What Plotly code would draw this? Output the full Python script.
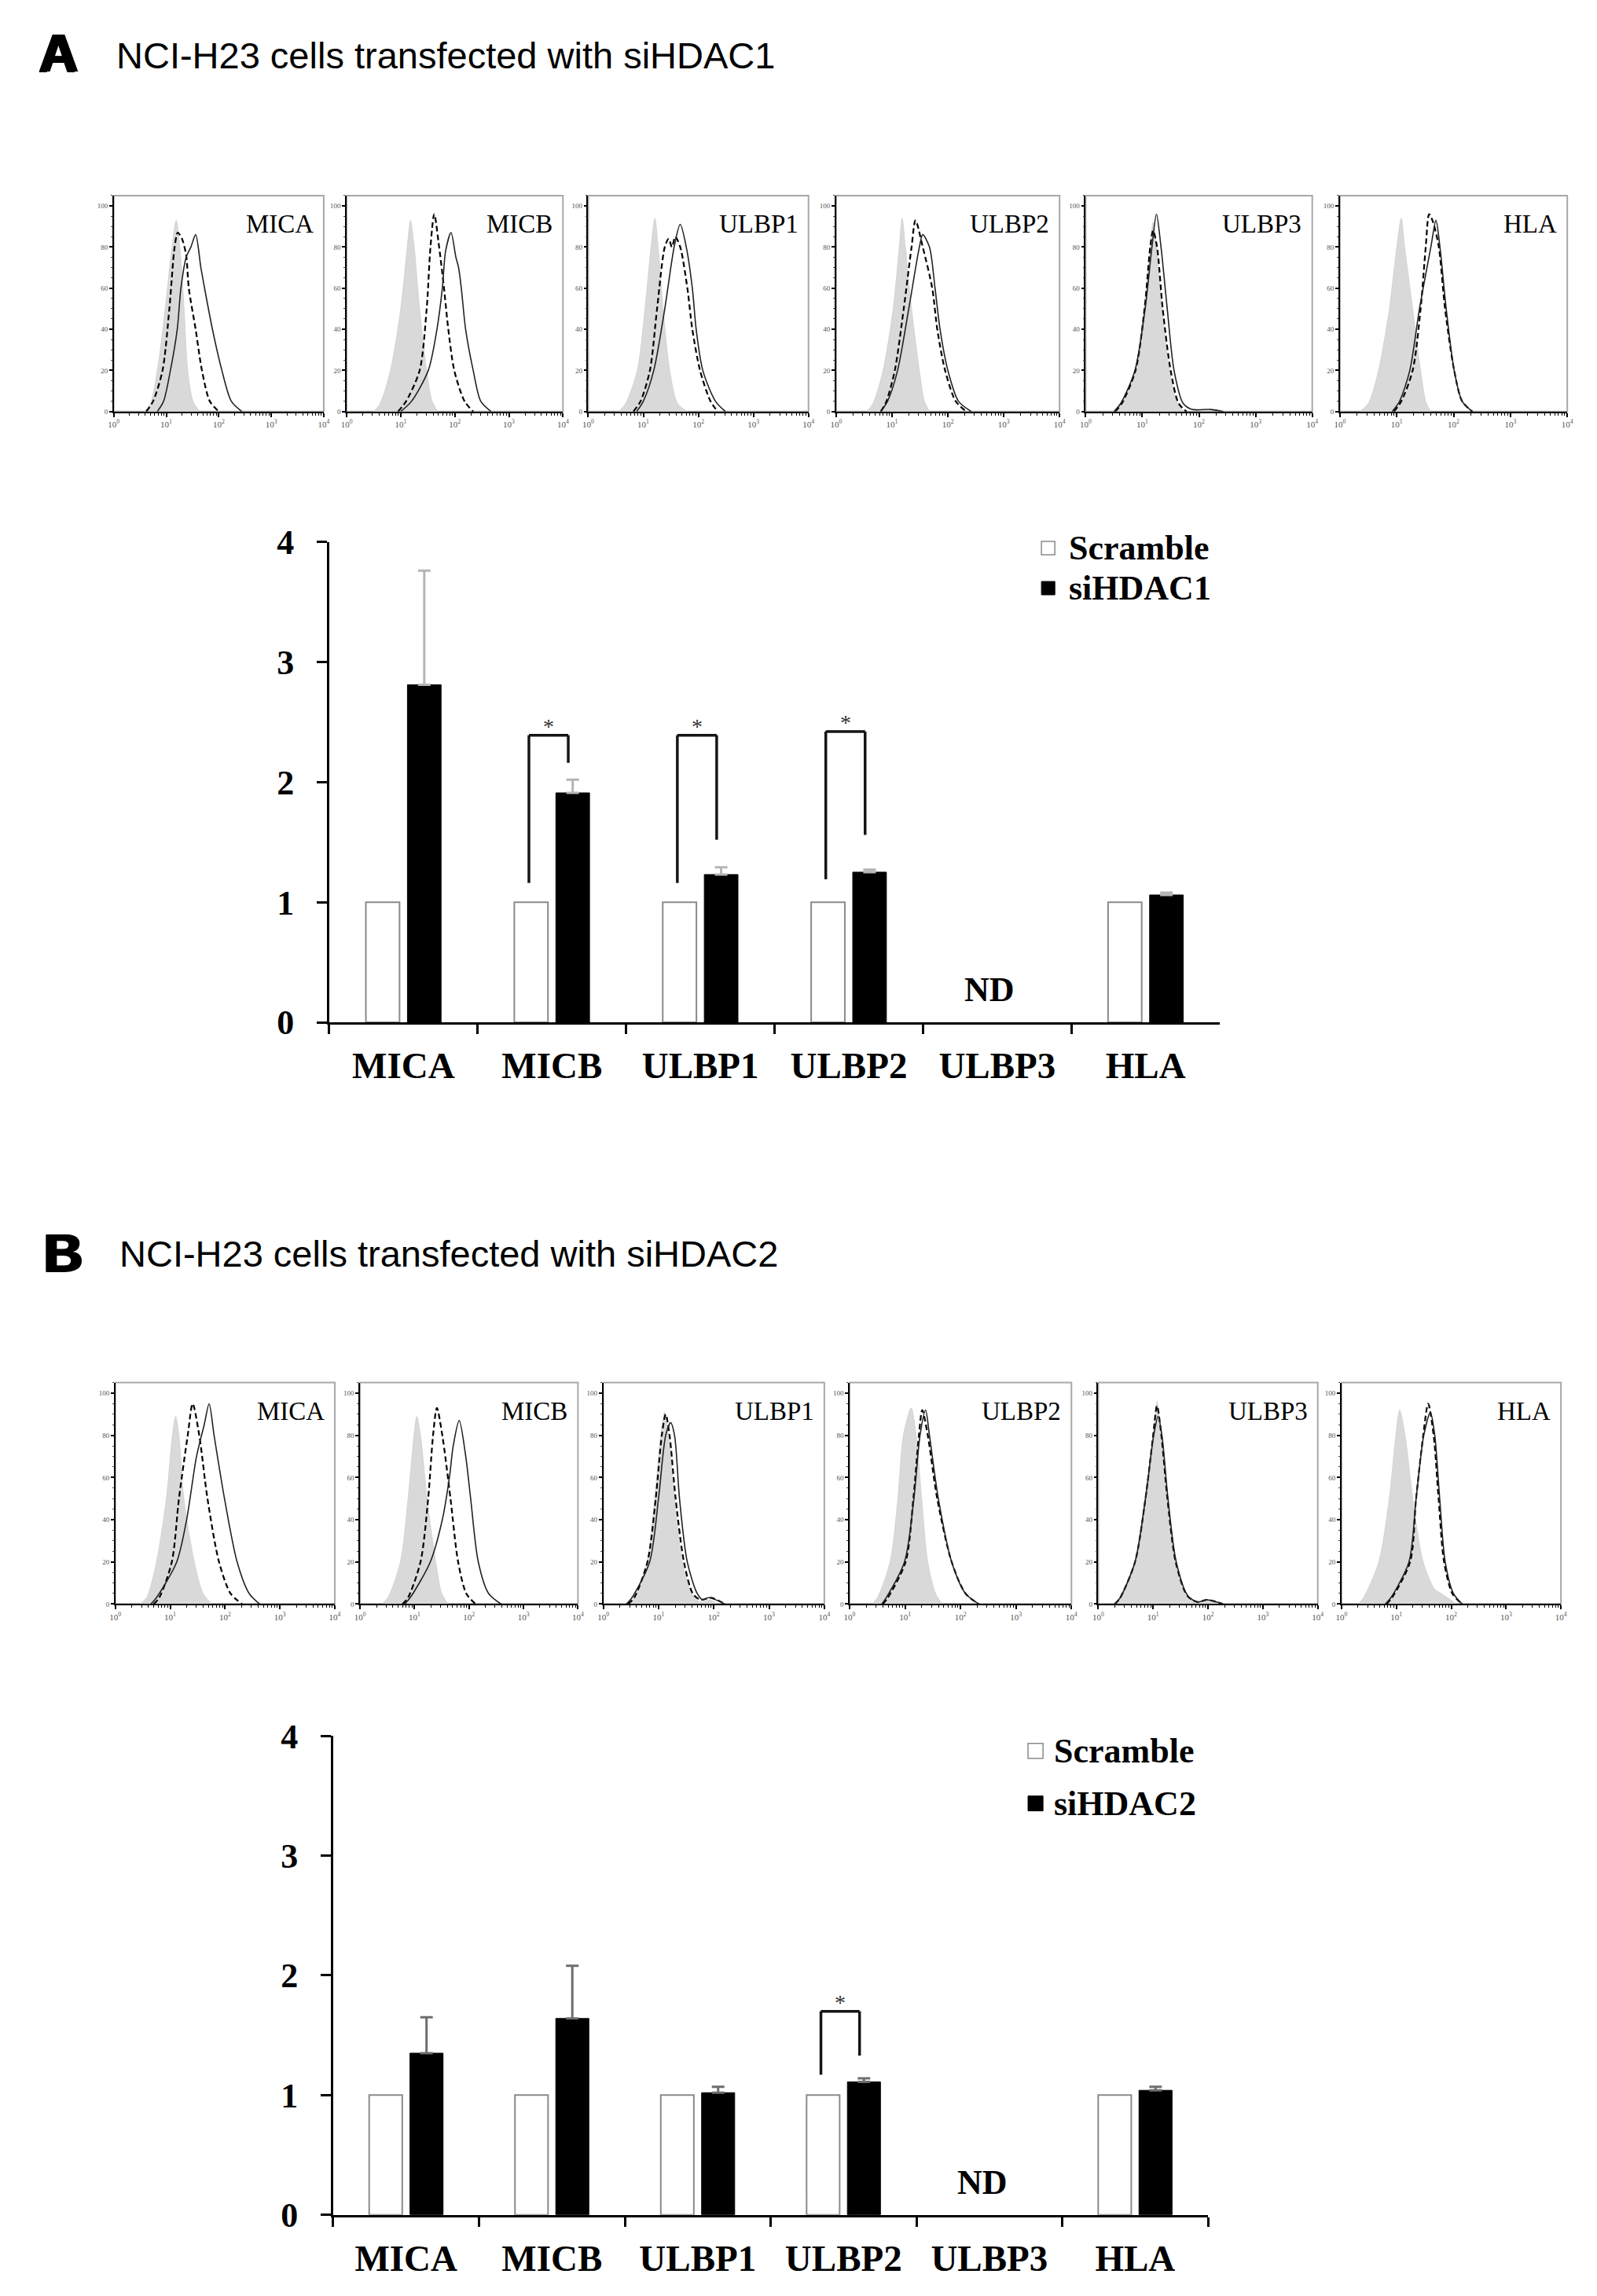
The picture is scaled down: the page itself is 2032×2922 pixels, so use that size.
import plotly.graph_objects as go

# ---- bar chart data (fold change of MFI vs scramble) ----
categories = ["MICA", "MICB", "ULBP1", "ULBP2", "ULBP3", "HLA"]

scramble_a = [1, 1, 1, 1, None, 1]
sihdac1 = [2.81, 1.91, 1.23, 1.25, None, 1.06]
sihdac1_err = [0.95, 0.11, 0.06, 0.02, None, 0.02]

scramble_b = [1, 1, 1, 1, None, 1]
sihdac2 = [1.35, 1.64, 1.02, 1.11, None, 1.04]
sihdac2_err = [0.30, 0.44, 0.05, 0.03, None, 0.03]

# significance brackets: gene, left leg bottom, bracket top, right leg bottom
sig_a = [("MICB", 1.16, 2.39, 2.16), ("ULBP1", 1.16, 2.39, 1.52), ("ULBP2", 1.19, 2.42, 1.56)]
sig_b = [("ULBP2", 1.17, 1.70, 1.33)]

# ---- flow histograms: (log10 fluorescence, % of max) ----
# A (siHDAC1)
a_mica_iso = [(0.58, 0), (0.70, 4), (0.83, 20), (0.98, 50), (1.11, 80), (1.19, 93), (1.26, 80), (1.34, 50), (1.41, 20), (1.51, 5), (1.64, 0)]
a_mica_scr = [(0.62, 0), (0.75, 5), (0.93, 20), (1.06, 50), (1.16, 80), (1.22, 87), (1.30, 84), (1.38, 76), (1.43, 60), (1.56, 40), (1.68, 20), (1.83, 5), (2.0, 0)]
a_mica_si = [(0.83, 0), (0.95, 5), (1.08, 20), (1.21, 40), (1.28, 60), (1.38, 75), (1.47, 80), (1.56, 86), (1.66, 70), (1.73, 60), (1.88, 40), (2.06, 20), (2.24, 5), (2.44, 0)]

a_micb_iso = [(0.50, 0), (0.62, 4), (0.81, 20), (1.00, 50), (1.12, 80), (1.18, 93), (1.25, 80), (1.35, 50), (1.48, 20), (1.58, 5), (1.69, 0)]
a_micb_scr = [(0.95, 0), (1.10, 5), (1.35, 20), (1.48, 50), (1.55, 80), (1.62, 96), (1.71, 80), (1.80, 60), (1.88, 40), (1.99, 20), (2.18, 5), (2.34, 0)]
a_micb_si = [(1.00, 0), (1.20, 5), (1.51, 20), (1.67, 40), (1.77, 60), (1.83, 78), (1.93, 87), (2.02, 75), (2.07, 70), (2.12, 60), (2.20, 40), (2.34, 20), (2.48, 5), (2.67, 0)]

a_ulbp1_iso = [(0.55, 0), (0.68, 4), (0.89, 20), (1.03, 50), (1.14, 80), (1.21, 94), (1.27, 80), (1.36, 50), (1.48, 20), (1.62, 4), (1.80, 0)]
a_ulbp1_scr = [(0.82, 0), (0.95, 5), (1.12, 20), (1.25, 50), (1.39, 80), (1.46, 84), (1.52, 80), (1.58, 85), (1.67, 80), (1.80, 60), (1.89, 40), (2.03, 20), (2.22, 5), (2.35, 0)]
a_ulbp1_si = [(0.88, 0), (1.00, 5), (1.19, 20), (1.39, 50), (1.56, 80), (1.67, 91), (1.78, 80), (1.89, 60), (1.96, 40), (2.08, 20), (2.31, 5), (2.49, 0)]

a_ulbp2_iso = [(0.55, 0), (0.66, 4), (0.84, 20), (1.02, 50), (1.13, 80), (1.18, 94), (1.24, 80), (1.35, 50), (1.49, 20), (1.58, 5), (1.67, 0)]
a_ulbp2_scr = [(0.80, 0), (0.90, 5), (1.05, 20), (1.21, 50), (1.35, 80), (1.42, 93), (1.55, 80), (1.72, 60), (1.81, 40), (1.95, 20), (2.14, 5), (2.33, 0)]
a_ulbp2_si = [(0.80, 0), (0.92, 5), (1.10, 20), (1.30, 50), (1.49, 80), (1.55, 86), (1.67, 80), (1.77, 60), (1.86, 40), (2.00, 20), (2.19, 5), (2.42, 0)]

a_ulbp3_iso = [(0.50, 0), (0.62, 4), (0.87, 20), (1.03, 50), (1.14, 80), (1.19, 92), (1.25, 80), (1.35, 50), (1.48, 20), (1.62, 4), (1.74, 0)]
a_ulbp3_scr = [(0.52, 0), (0.64, 4), (0.88, 20), (1.04, 50), (1.14, 80), (1.19, 88), (1.26, 80), (1.36, 50), (1.50, 20), (1.64, 4), (1.78, 0)]
a_ulbp3_si = [(0.50, 0), (0.62, 4), (0.87, 20), (1.05, 50), (1.17, 80), (1.25, 96), (1.33, 80), (1.44, 50), (1.56, 20), (1.72, 4), (1.88, 1), (2.20, 1), (2.43, 0)]

a_hla_iso = [(0.35, 0), (0.50, 4), (0.68, 20), (0.87, 50), (1.00, 80), (1.08, 94), (1.14, 80), (1.28, 50), (1.42, 20), (1.52, 4), (1.60, 0)]
a_hla_scr = [(0.95, 0), (1.08, 5), (1.28, 20), (1.42, 50), (1.51, 80), (1.57, 96), (1.64, 92), (1.74, 80), (1.85, 50), (2.01, 20), (2.15, 5), (2.33, 0)]
a_hla_si = [(0.92, 0), (1.05, 5), (1.23, 20), (1.40, 50), (1.60, 80), (1.69, 93), (1.76, 80), (1.87, 50), (2.01, 20), (2.15, 5), (2.33, 0)]

# B (siHDAC2)
b_mica_iso = [(0.45, 0), (0.57, 3), (0.75, 20), (0.93, 50), (1.04, 80), (1.10, 89), (1.16, 80), (1.25, 50), (1.44, 20), (1.60, 5), (1.76, 0)]
b_mica_scr = [(0.70, 0), (0.80, 3), (1.03, 20), (1.16, 50), (1.32, 80), (1.41, 95), (1.53, 80), (1.68, 50), (1.89, 20), (2.10, 5), (2.31, 0)]
b_mica_si = [(0.65, 0), (0.75, 3), (1.12, 20), (1.30, 40), (1.48, 70), (1.62, 85), (1.71, 95), (1.80, 80), (1.99, 50), (2.22, 20), (2.44, 5), (2.63, 0)]

b_micb_iso = [(0.40, 0), (0.51, 3), (0.74, 20), (0.88, 50), (0.99, 80), (1.04, 89), (1.11, 80), (1.23, 50), (1.39, 20), (1.50, 5), (1.62, 0)]
b_micb_scr = [(0.78, 0), (0.88, 3), (1.11, 20), (1.25, 50), (1.34, 80), (1.41, 93), (1.51, 80), (1.66, 50), (1.80, 20), (1.95, 5), (2.12, 0)]
b_micb_si = [(0.82, 0), (0.92, 3), (1.29, 20), (1.51, 40), (1.64, 60), (1.71, 75), (1.82, 87), (1.94, 70), (2.03, 50), (2.17, 20), (2.36, 5), (2.59, 0)]

b_ulbp1_iso = [(0.45, 0), (0.56, 3), (0.79, 20), (0.93, 50), (1.04, 80), (1.11, 91), (1.18, 80), (1.29, 50), (1.43, 20), (1.60, 5), (1.75, 1), (1.93, 2), (2.05, 0)]
b_ulbp1_scr = [(0.45, 0), (0.56, 3), (0.80, 20), (0.95, 50), (1.06, 80), (1.13, 90), (1.20, 80), (1.31, 50), (1.46, 20), (1.62, 5), (1.76, 2), (1.95, 3), (2.20, 0)]
b_ulbp1_si = [(0.42, 0), (0.52, 3), (0.84, 20), (1.00, 50), (1.13, 80), (1.22, 86), (1.29, 80), (1.38, 50), (1.52, 20), (1.70, 5), (1.80, 2), (1.91, 3), (2.20, 0)]

b_ulbp2_iso = [(0.40, 0), (0.50, 3), (0.73, 20), (0.87, 50), (0.97, 80), (1.11, 93), (1.20, 80), (1.30, 50), (1.41, 20), (1.55, 5), (1.67, 0)]
b_ulbp2_scr = [(0.60, 0), (0.69, 3), (1.01, 20), (1.15, 50), (1.25, 80), (1.31, 92), (1.41, 80), (1.58, 50), (1.84, 20), (2.09, 5), (2.33, 0)]
b_ulbp2_si = [(0.58, 0), (0.66, 3), (0.99, 20), (1.16, 50), (1.27, 80), (1.37, 92), (1.44, 80), (1.60, 50), (1.84, 20), (2.09, 5), (2.33, 0)]

b_ulbp3_iso = [(0.30, 0), (0.38, 3), (0.66, 20), (0.85, 50), (1.00, 80), (1.07, 96), (1.14, 80), (1.25, 50), (1.40, 20), (1.60, 4), (1.80, 1), (1.99, 2), (2.27, 0)]
b_ulbp3_scr = [(0.30, 0), (0.40, 3), (0.67, 20), (0.86, 50), (1.00, 80), (1.07, 94), (1.15, 80), (1.26, 50), (1.41, 20), (1.62, 4), (1.80, 1), (1.99, 2), (2.27, 0)]
b_ulbp3_si = [(0.30, 0), (0.40, 3), (0.67, 20), (0.86, 50), (1.01, 80), (1.09, 89), (1.16, 80), (1.27, 50), (1.42, 20), (1.63, 4), (1.80, 1), (1.99, 2), (2.27, 0)]

b_hla_iso = [(0.30, 0), (0.40, 3), (0.68, 20), (0.87, 50), (0.99, 80), (1.06, 92), (1.16, 80), (1.30, 50), (1.49, 20), (1.70, 7), (1.82, 5), (2.10, 0)]
b_hla_scr = [(0.82, 0), (0.92, 3), (1.25, 20), (1.36, 50), (1.49, 80), (1.58, 95), (1.68, 80), (1.77, 50), (1.87, 20), (2.02, 5), (2.20, 0)]
b_hla_si = [(0.80, 0), (0.90, 3), (1.23, 20), (1.36, 50), (1.50, 80), (1.62, 91), (1.70, 80), (1.79, 50), (1.89, 20), (2.04, 5), (2.20, 0)]

hist_a = [(a_mica_iso, a_mica_scr, a_mica_si), (a_micb_iso, a_micb_scr, a_micb_si),
          (a_ulbp1_iso, a_ulbp1_scr, a_ulbp1_si), (a_ulbp2_iso, a_ulbp2_scr, a_ulbp2_si),
          (a_ulbp3_iso, a_ulbp3_scr, a_ulbp3_si), (a_hla_iso, a_hla_scr, a_hla_si)]
hist_b = [(b_mica_iso, b_mica_scr, b_mica_si), (b_micb_iso, b_micb_scr, b_micb_si),
          (b_ulbp1_iso, b_ulbp1_scr, b_ulbp1_si), (b_ulbp2_iso, b_ulbp2_scr, b_ulbp2_si),
          (b_ulbp3_iso, b_ulbp3_scr, b_ulbp3_si), (b_hla_iso, b_hla_scr, b_hla_si)]

# ---- page geometry: positions are given in pixels of the final 2032x2922 picture ----
W_FIG, H_FIG = 2016, 2906
OFF = 8
# the captured page comes out slightly shrunk/shifted; undo that here
X_SHIFT, X_SCALE = 11, 0.988
Y_SHIFT, Y_SCALE = 23, 0.984


def px_x(px):
    return ((px - X_SHIFT) / X_SCALE - OFF) / W_FIG


def px_y(py):
    return 1 - ((py - Y_SHIFT) / Y_SCALE - OFF) / H_FIG


SERIF = "Liberation Serif"
SANS = "Liberation Sans"

fig = go.Figure()
layout = dict(
    width=W_FIG, height=H_FIG, margin=dict(l=0, r=0, t=0, b=0),
    paper_bgcolor="white", plot_bgcolor="white", showlegend=False,
    barmode="group", bargap=0.44, bargroupgap=0.19,
)
shapes = []
annotations = []

# ---- bar charts ----
bar_panels = [
    ("x", "y", scramble_a, sihdac1, sihdac1_err, "siHDAC1", "#b5b5b5", sig_a,
     (421, 1549), (689, 1301), ((1323, 697), (1323, 748), 17, 1356)),
    ("x2", "y2", scramble_b, sihdac2, sihdac2_err, "siHDAC2", "#6e6e6e", sig_b,
     (426, 1534), (2210, 2820), ((1306, 2229), (1306, 2296), 19, 1337)),
]

for xa, ya, scr, si, err, si_name, err_col, sig, (xl, xr), (yt, yb), leg in bar_panels:
    fig.add_trace(go.Bar(x=categories, y=scr, name="Scramble", xaxis=xa, yaxis=ya,
                         marker=dict(color="white", line=dict(color="#8a8a8a", width=2))))
    fig.add_trace(go.Bar(x=categories, y=si, name=si_name, xaxis=xa, yaxis=ya,
                         marker=dict(color="black", line=dict(color="black", width=1)),
                         error_y=dict(type="data", symmetric=False, array=err,
                                      arrayminus=[0] * len(err), color=err_col,
                                      thickness=3, width=8)))
    n = xa[1:]
    layout[f"xaxis{n}"] = dict(
        domain=[px_x(xl), px_x(xr)], anchor=ya, type="category",
        categoryorder="array", categoryarray=categories, range=[-0.5, 5.5],
        showline=True, linecolor="black", linewidth=3, ticks="outside",
        tickson="boundaries", ticklen=12, tickwidth=3, tickcolor="black",
        tickfont=dict(family=SERIF, size=47, color="black", weight="bold"),
        ticklabelstandoff=12, showgrid=False, zeroline=False)
    layout[f"yaxis{n}"] = dict(
        domain=[px_y(yb), px_y(yt)], anchor=xa, range=[0, 4],
        tickvals=[0, 1, 2, 3, 4], showline=True, linecolor="black", linewidth=3,
        ticks="outside", ticklen=13, tickwidth=3, tickcolor="black",
        tickfont=dict(family=SERIF, size=44, color="black", weight="bold"),
        ticklabelstandoff=20, showgrid=False, zeroline=False)

    # significance brackets
    for gene, left_y, top_y, right_y in sig:
        i = categories.index(gene)
        bl, br = i - 0.155, i + 0.11
        for x0, y0, x1, y1 in [(bl, left_y, bl, top_y), (bl, top_y, br, top_y), (br, top_y, br, right_y)]:
            shapes.append(dict(type="line", xref=xa, yref=ya, x0=x0, y0=y0, x1=x1, y1=y1,
                               line=dict(color="#151515", width=3.5)))
        annotations.append(dict(text="*", xref=xa, yref=ya, x=(bl + br) / 2, y=top_y,
                                xanchor="center", yanchor="bottom", yshift=-6, showarrow=False,
                                font=dict(family=SERIF, size=28, color="#333")))

    annotations.append(dict(text="ND", xref=xa, yref=ya, x=categories.index("ULBP3") - 0.05, y=0.27,
                            showarrow=False, xanchor="center", yanchor="middle",
                            font=dict(family=SERIF, size=44, color="black", weight="bold")))

    # legend
    (sx, sy1), (_, sy2), sz, tx = leg
    shapes.append(dict(type="rect", xref="paper", yref="paper",
                       x0=px_x(sx), x1=px_x(sx + sz), y0=px_y(sy1 + sz / 2), y1=px_y(sy1 - sz / 2),
                       fillcolor="white", line=dict(color="#8a8a8a", width=1.5)))
    shapes.append(dict(type="rect", xref="paper", yref="paper",
                       x0=px_x(sx), x1=px_x(sx + sz), y0=px_y(sy2 + sz / 2), y1=px_y(sy2 - sz / 2),
                       fillcolor="black", line=dict(color="black", width=1)))
    for label, ty in [("Scramble", sy1), (si_name, sy2)]:
        annotations.append(dict(text=label, xref="paper", yref="paper", x=px_x(tx), y=px_y(ty),
                                xanchor="left", yanchor="middle", showarrow=False,
                                font=dict(family=SERIF, size=44, color="black", weight="bold")))

# ---- flow cytometry histograms ----
hist_rows = [
    (hist_a, 3, [(148, 414), (443, 717), (749, 1028), (1063, 1346), (1379, 1666), (1701, 1989)], (248, 523)),
    (hist_b, 9, [(150, 428), (460, 736), (768, 1048), (1080, 1361), (1395, 1673), (1703, 1981)], (1760, 2042)),
]
minor_x = [m * 10 ** d for d in range(4) for m in range(2, 10)]

for curves, first, xdoms, (yt, yb) in hist_rows:
    for k, (iso, scr, si) in enumerate(curves):
        n = first + k
        xa, ya = f"x{n}", f"y{n}"
        fig.add_trace(go.Scatter(x=[10 ** p[0] for p in iso], y=[p[1] for p in iso], xaxis=xa, yaxis=ya,
                                 mode="lines", line=dict(color="#cfcfcf", width=0.8, shape="spline", smoothing=0.8),
                                 fill="tozeroy", fillcolor="#d9d9d9", name="Isotype"))
        fig.add_trace(go.Scatter(x=[10 ** p[0] for p in scr], y=[p[1] for p in scr], xaxis=xa, yaxis=ya,
                                 mode="lines", line=dict(color="black", width=2.2, dash="7px,4px",
                                                         shape="spline", smoothing=0.8), name="Scramble"))
        fig.add_trace(go.Scatter(x=[10 ** p[0] for p in si], y=[p[1] for p in si], xaxis=xa, yaxis=ya,
                                 mode="lines", line=dict(color="#222", width=1.6, shape="spline", smoothing=0.8),
                                 name="siHDAC"))
        l, r = xdoms[k]
        layout[f"xaxis{n}"] = dict(
            domain=[px_x(l), px_x(r)], anchor=ya, type="log", range=[0, 4],
            showline=True, linecolor="black", linewidth=2, ticks="outside", ticklen=5,
            tickwidth=1.5, tickcolor="black", tickvals=[1, 10, 100, 1000, 10000],
            ticktext=[f"10<sup>{d}</sup>" for d in range(5)],
            tickfont=dict(family=SERIF, size=11, color="#555"),
            minor=dict(ticks="outside", ticklen=3, tickwidth=1, tickcolor="black", tickvals=minor_x),
            showgrid=False, zeroline=False)
        layout[f"yaxis{n}"] = dict(
            domain=[px_y(yb), px_y(yt)], anchor=xa, range=[0, 105],
            showline=True, linecolor="black", linewidth=1.5, ticks="outside", ticklen=4,
            tickwidth=2, tickcolor="black", tickvals=[0, 20, 40, 60, 80, 100],
            tickfont=dict(family=SERIF, size=9, color="#555"),
            minor=dict(ticks="outside", ticklen=2, tickwidth=1, tickcolor="#444", dtick=5),
            showgrid=False, zeroline=False)
        shapes.append(dict(type="rect", xref=f"{xa} domain", yref=f"{ya} domain",
                           x0=0, x1=1, y0=0, y1=1, layer="below",
                           line=dict(color="#a8a8a8", width=2)))
        annotations.append(dict(text=categories[k], xref=f"{xa} domain", yref=f"{ya} domain",
                                x=0.96, y=0.87, xanchor="right", yanchor="middle", showarrow=False,
                                font=dict(family=SERIF, size=33, color="black")))

# ---- panel letters and titles ----
for letter, lx, ly, title, tx, ty in [
    ("A", 50, 66, "NCI-H23 cells transfected with siHDAC1", 149, 69),
    ("B", 56, 1594, "NCI-H23 cells transfected with siHDAC2", 153, 1596),
]:
    annotations.append(dict(text=letter, xref="paper", yref="paper", x=px_x(lx), y=px_y(ly),
                            xanchor="left", yanchor="middle", showarrow=False,
                            font=dict(family=SANS, size=68, color="black", weight="bold",
                                      shadow="2px 0 0 #000, 4px 0 0 #000, 0 1px 0 #000")))
    annotations.append(dict(text=title, xref="paper", yref="paper", x=px_x(tx), y=px_y(ty),
                            xanchor="left", yanchor="middle", showarrow=False,
                            font=dict(family=SANS, size=47, color="black")))

layout["shapes"] = shapes
layout["annotations"] = annotations
fig.update_layout(**layout)

fig.write_html("out.html")
